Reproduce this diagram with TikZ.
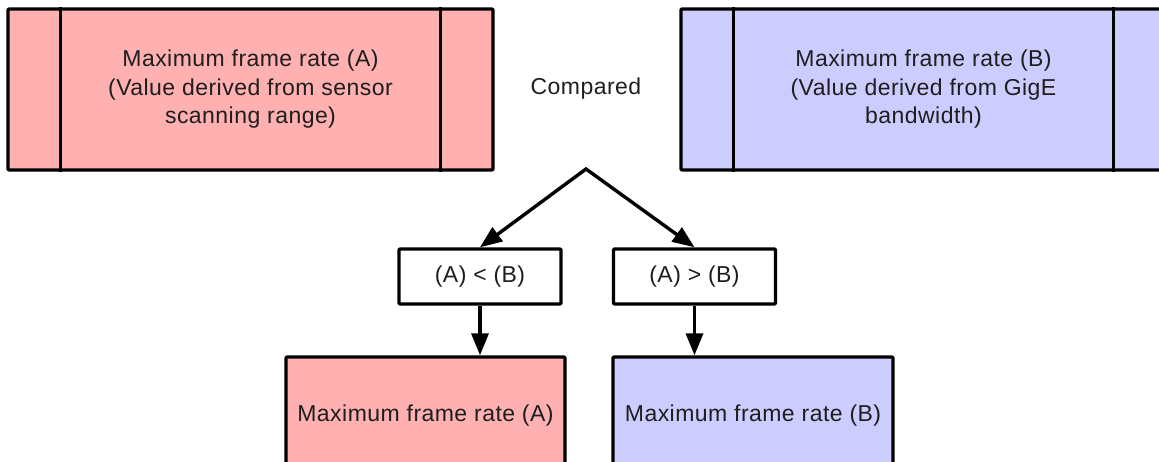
\documentclass[tikz,border=0pt]{standalone}
\usepackage{fontspec}
\setmainfont[LetterSpace=2]{Liberation Sans}
\usetikzlibrary{arrows.meta}
\definecolor{pinkA}{RGB}{255,176,176}
\definecolor{blueB}{RGB}{204,204,255}
\definecolor{txt}{RGB}{30,30,30}
\tikzset{
  box/.style={draw=black, line width=3.4pt, line join=round, rounded corners=1pt, inner sep=0pt,
    text=txt, font=\fontsize{23pt}{28.5pt}\selectfont, align=center},
  bigbox/.style={box, minimum width=485pt, minimum height=161pt},
  condbox/.style={box, fill=white, minimum width=162pt, minimum height=55pt},
  resbox/.style={box, minimum height=117pt},
  sideline/.style={draw=black, line width=3.4pt},
  arr/.style={line width=3.4pt, -{Triangle[length=22pt,width=17pt]}},
  twoarr/.style={line width=3.4pt, line join=miter, {Triangle[length=22pt,width=17pt]}-{Triangle[length=22pt,width=17pt]}},
  plain/.style={text=txt, font=\fontsize{23pt}{28.5pt}\selectfont, inner sep=0pt}
}
\begin{document}
\begin{tikzpicture}[x=1pt,y=-1pt]
\useasboundingbox (0,0) rectangle (1159,462);
\node[bigbox, fill=pinkA] (topA) at (250.5,89.5) {Maximum frame rate (A)\\(Value derived from sensor\\scanning range)};
\draw[sideline] ([xshift=54pt]topA.north west) -- ([xshift=54pt]topA.south west);
\draw[sideline] ([xshift=-54pt]topA.north east) -- ([xshift=-54pt]topA.south east);
\node[bigbox, fill=blueB] (topB) at (923.5,89.5) {Maximum frame rate (B)\\(Value derived from GigE\\bandwidth)};
\draw[sideline] ([xshift=54pt]topB.north west) -- ([xshift=54pt]topB.south west);
\draw[sideline] ([xshift=-54pt]topB.north east) -- ([xshift=-54pt]topB.south east);
\node[plain] (cmp) at (586,89) {Compared};
\coordinate (apex) at (586,169);
\node[condbox] (lt) at (480,276.5) {(A) < (B)};
\node[condbox] (gt) at (694.5,276.5) {(A) > (B)};
\node[resbox, fill=pinkA, minimum width=279pt] (resA) at (425.5,415.5) {Maximum frame rate (A)};
\node[resbox, fill=blueB, minimum width=280pt] (resB) at (753,415.5) {Maximum frame rate (B)};
\draw[twoarr] (lt.north) -- (apex) -- (gt.north);
\draw[arr] (lt.south) -- (lt.south |- resA.north);
\draw[arr] (gt.south) -- (gt.south |- resB.north);
\end{tikzpicture}
\end{document}
